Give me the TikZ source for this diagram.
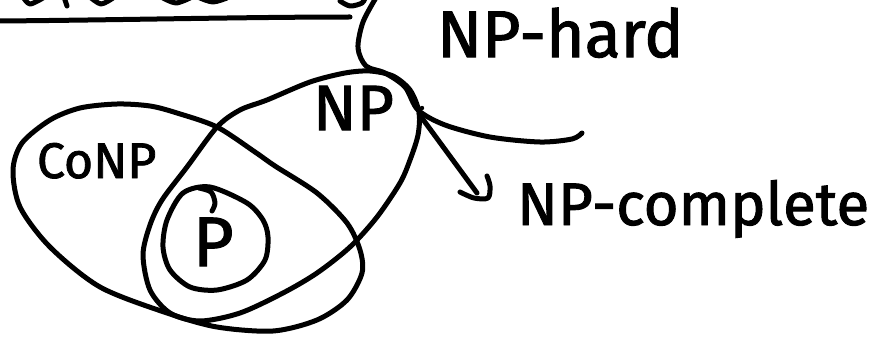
\documentclass[tikz,border=0pt]{standalone}
\usepackage{fontspec}
\setmainfont{Fira Sans}[FakeBold=1.6,AutoFakeBold=1.6]
\newcommand{\fsz}[1]{\fontsize{#1}{#1}\selectfont\bfseries}
\begin{document}
\begin{tikzpicture}[x=1pt,y=-1pt,
  pen/.style={line width=5pt,line cap=round,line join=round},
  lbl/.style={inner sep=0pt,outer sep=0pt}]
\useasboundingbox (0,0) rectangle (869,337);
\clip (0,0) rectangle (869,337);

% labels
\node[lbl,anchor=base west,font=\fsz{66}] (hard) at (437,57) {NP-hard};
\node[lbl,anchor=base west,font=\fsz{60}] (comp) at (517,225) {NP-complete};
\node[lbl,anchor=base west,font=\fsz{64}] (np) at (313,130) {NP};
\node[lbl,anchor=base west,font=\fsz{50}] (conp) at (37,178) {CoNP};
\node[lbl,anchor=base west,font=\fsz{70}] (p) at (193,266) {P};

% letters cut off at the top edge
\draw[pen] plot[smooth] coordinates {(23,-3) (30,4) (43,-2)};
\draw[pen] (64,-3) -- (67,6);
\draw[pen] plot[smooth] coordinates {(90,-3) (101,4) (113,-2)};
\draw[pen] plot[smooth] coordinates {(163,-2) (176,3) (190,-2)};
\draw[pen] plot[smooth] coordinates {(200,-2) (213,2) (227,-2)};

% underline ending in an arrow tip towards NP-hard
\coordinate (ul) at (0,21);
\coordinate (ur) at (350,17);
\draw[pen] (ul) .. controls (120,20) and (250,17) .. (ur);
\draw[pen] plot[smooth] coordinates {(340,1) (350,6) (362,3) (366,-4)};

% NP-hard region boundary
\draw[pen] plot[smooth] coordinates {(377,-4) (363,22) (358,48) (366,66) (385,73)
  (405,87) (418,110) (445,125) (490,137) (540,142) (572,139) (582,133)};

% NP
\draw[pen] plot[smooth cycle] coordinates {(267,100) (310,82) (345,73) (370,71) (393,76)
  (410,90) (419,112) (418,135) (410,160) (400,183) (377,217) (350,247) (317,273)
  (283,293) (240,313) (200,321) (170,313) (150,290) (143,255) (150,225) (162,200)
  (187,167) (217,127) (240,110)};

% coNP
\draw[pen] plot[smooth cycle] coordinates {(13,170) (22,143) (50,120) (80,108) (117,104)
  (150,106) (177,113) (217,127) (255,152) (275,166) (317,193) (347,223) (360,250)
  (362,273) (347,300) (317,320) (273,331) (217,327) (167,313) (100,287) (50,247)
  (20,207)};

% P
\draw[pen] plot[smooth cycle] coordinates {(183,193) (210,187) (247,203) (263,220)
  (268,237) (265,260) (247,280) (217,290) (190,287) (170,270) (163,247) (167,220)};
\draw[pen] plot[smooth] coordinates {(199,188) (211,192) (215,203) (212,211)};

% arrow to NP-complete
\coordinate (hub) at (419,114);
\coordinate (tip) at (477,193);
\fill (422,108) circle (2.2pt);
\draw[pen] (hub) -- (tip);
\draw[pen] plot[smooth] coordinates {(460,192) (474,198) (488,198) (490,186) (487,176)};
\end{tikzpicture}
\end{document}
